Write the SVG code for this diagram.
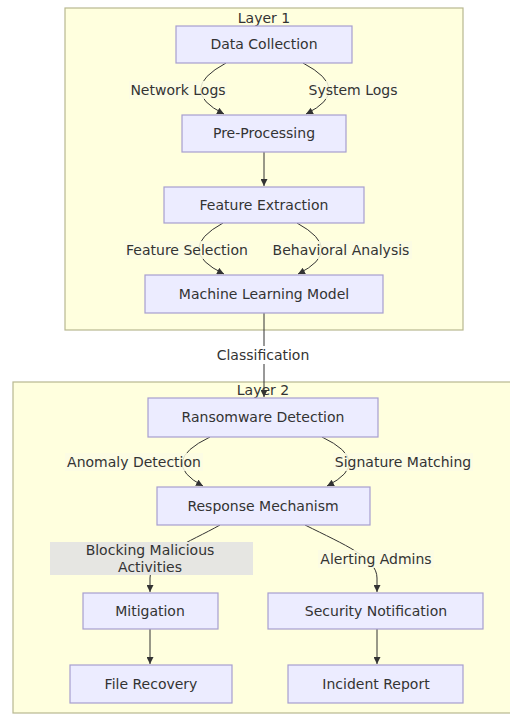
<svg xmlns="http://www.w3.org/2000/svg" width="510" height="716" viewBox="0 0 510 716">
<defs>
<style>
.cluster{fill:#ffffde;stroke:#b8b890;stroke-width:1.2}
.node rect{fill:#ececff;stroke:#a79fcf;stroke-width:1.2}
text{font-family:"DejaVu Sans",Verdana,sans-serif;font-size:14px;fill:#333;text-anchor:middle}
.edge{fill:none;stroke:#333;stroke-width:1}
.lbg{fill:#fbfbe4;opacity:0.85}
.lbgw{fill:#ffffff}
.lbgg{fill:#e6e6e2}
</style>
<marker id="arr" viewBox="0 0 8 8" refX="8" refY="4" markerWidth="7" markerHeight="7" markerUnits="userSpaceOnUse" orient="auto">
<path d="M0,0 L8,4 L0,8 z" fill="#333"/>
</marker>
</defs>
<rect width="510" height="716" fill="#ffffff"/>
<g id="layer1">
<rect class="cluster" x="65" y="8" width="398" height="322"/>
<text x="264" y="23">Layer 1</text>
</g>
<g id="layer2">
<rect class="cluster" x="13" y="382" width="510" height="331"/>
<text x="263" y="395">Layer 2</text>
</g>
<g id="connectors">
<path class="edge" d="M226,63 Q176,90 224,114" marker-end="url(#arr)"/>
<path class="edge" d="M303,63 Q354,90 306,114" marker-end="url(#arr)"/>
<path class="edge" d="M264,152 L264,186" marker-end="url(#arr)"/>
<path class="edge" d="M223,223 Q174,250 224,274" marker-end="url(#arr)"/>
<path class="edge" d="M297,223 Q346,250 298,274" marker-end="url(#arr)"/>
<path class="edge" d="M264,313 L264,397" marker-end="url(#arr)"/>
<path class="edge" d="M210,437 Q158,462 203,486" marker-end="url(#arr)"/>
<path class="edge" d="M322,437 Q374,462 327,486" marker-end="url(#arr)"/>
<path class="edge" d="M220,525 C190,542 150,556 150,578 L150,592" marker-end="url(#arr)"/>
<path class="edge" d="M305,525 C345,545 377,558 377,578 L377,592" marker-end="url(#arr)"/>
<path class="edge" d="M150,629 L150,664" marker-end="url(#arr)"/>
<path class="edge" d="M377,629 L377,664" marker-end="url(#arr)"/>
<g id="edge-labels">
<rect class="lbg" x="129" y="81" width="98" height="18"/>
<text x="178" y="95">Network Logs</text>
<rect class="lbg" x="310" y="81" width="87" height="18"/>
<text x="353" y="95">System Logs</text>
<rect class="lbg" x="124" y="241" width="126" height="18"/>
<text x="187" y="255">Feature Selection</text>
<rect class="lbg" x="270" y="241" width="142" height="18"/>
<text x="341" y="255">Behavioral Analysis</text>
<rect class="lbgw" x="215" y="346" width="97" height="18"/>
<text x="263" y="360">Classification</text>
<rect class="lbg" x="65" y="453" width="138" height="18"/>
<text x="134" y="467">Anomaly Detection</text>
<rect class="lbg" x="333" y="453" width="140" height="18"/>
<text x="403" y="467">Signature Matching</text>
<rect class="lbgg" x="50" y="542" width="203" height="33"/>
<text x="150" y="555">Blocking Malicious</text>
<text x="150" y="572">Activities</text>
<rect class="lbg" x="318" y="550" width="116" height="18"/>
<text x="376" y="564">Alerting Admins</text>
</g>
</g>
<g id="data-collection" class="node"><rect x="176" y="26" width="176" height="37"/><text x="264" y="49">Data Collection</text></g>
<g id="pre-processing" class="node"><rect x="182" y="115" width="164" height="37"/><text x="264" y="138">Pre-Processing</text></g>
<g id="feature-extraction" class="node"><rect x="164" y="187" width="200" height="36"/><text x="264" y="210">Feature Extraction</text></g>
<g id="ml-model" class="node"><rect x="145" y="275" width="238" height="38"/><text x="264" y="299">Machine Learning Model</text></g>
<g id="ransomware-detection" class="node"><rect x="148" y="398" width="230" height="39"/><text x="263" y="422">Ransomware Detection</text></g>
<g id="response-mechanism" class="node"><rect x="157" y="487" width="213" height="38"/><text x="263" y="511">Response Mechanism</text></g>
<g id="mitigation" class="node"><rect x="83" y="593" width="135" height="36"/><text x="150" y="616">Mitigation</text></g>
<g id="security-notification" class="node"><rect x="268" y="593" width="215" height="36"/><text x="376" y="616">Security Notification</text></g>
<g id="file-recovery" class="node"><rect x="70" y="665" width="162" height="38"/><text x="151" y="689">File Recovery</text></g>
<g id="incident-report" class="node"><rect x="288" y="665" width="175" height="38"/><text x="376" y="689">Incident Report</text></g>
</svg>
